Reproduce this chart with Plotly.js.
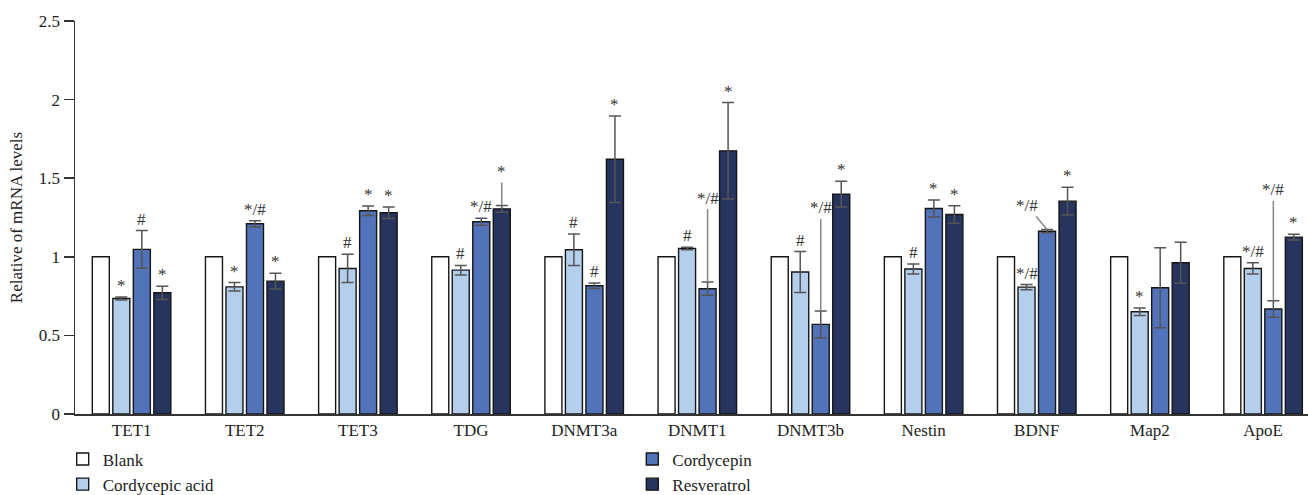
<!DOCTYPE html>
<html>
<head>
<meta charset="utf-8">
<script src="https://cdn.plot.ly/plotly-3.0.1.min.js"></script>
<style>html,body{margin:0;padding:0;background:#fff;}#chart{width:1308px;height:495px;}</style>
</head>
<body>
<div id="chart"></div>
<script>
const categories = ['TET1','TET2','TET3','TDG','DNMT3a','DNMT1','DNMT3b','Nestin','BDNF','Map2','ApoE'];
const seriesNames = ['Blank','Cordycepic acid','Cordycepin','Resveratrol'];

const blankVals = [1,1,1,1,1,1,1,1,1,1,1];
const blankErr  = [0,0,0,0,0,0,0,0,0,0,0];
const acidVals  = [0.735,0.809,0.926,0.915,1.045,1.053,0.903,0.922,0.807,0.650,0.926];
const acidErr   = [0.010,0.027,0.090,0.030,0.100,0.008,0.130,0.032,0.016,0.024,0.036];
const cordVals  = [1.047,1.210,1.293,1.223,0.816,0.797,0.570,1.307,1.163,0.803,0.668];
const cordErr   = [0.120,0.020,0.030,0.022,0.017,0.042,0.086,0.054,0.010,0.255,0.053];
const resvVals  = [0.771,0.845,1.280,1.305,1.621,1.674,1.399,1.269,1.354,0.962,1.125];
const resvErr   = [0.042,0.050,0.036,0.022,0.275,0.307,0.082,0.055,0.088,0.130,0.018];

const blankMarks = ['','','','','','','','','','',''];
const acidMarks  = ['*','*','#','#','#','#','#','#','*/#','*','*/#'];
const cordMarks  = ['#','*/#','*','*/#','#','*/#','*/#','*','*/#','','*/#'];
const resvMarks  = ['*','*','*','*','*','*','*','*','*','','*'];

const yTickVals = [0,0.5,1,1.5,2,2.5];
const yTickText = ['0','0.5','1','1.5','2','2.5'];

// leader-line placements (pixel offsets of the mark from the error-bar top)
const leaders = {
  '3-3': {ax: 0, ay: -34},
  '5-2': {ax: 0, ay: -84},
  '6-2': {ax: 0, ay: -103},
  '8-2': {ax: -20, ay: -24},
  '10-2': {ax: 0, ay: -111}
};

const vals = [blankVals, acidVals, cordVals, resvVals];
const errs = [blankErr, acidErr, cordErr, resvErr];
const marks = [blankMarks, acidMarks, cordMarks, resvMarks];
const fills = ['#ffffff', '#b4cfec', '#5273b9', '#27345e'];
const legendOf = ['legend', 'legend', 'legend2', 'legend2'];

const FONT = '"Liberation Serif", "Times New Roman", serif';
const bargap = 0.275;
const slot = (1 - bargap) / 4;

const traces = seriesNames.map((name, s) => ({
  type: 'bar',
  name: name,
  x: categories,
  y: vals[s],
  legend: legendOf[s],
  marker: {color: fills[s], line: {color: '#161616', width: 1.4}},
  error_y: s === 0 ? {visible: false} : {type: 'data', array: errs[s], visible: true, color: '#555', thickness: 1.5, width: 6},
  hoverinfo: 'x+y+name'
}));

const annotations = [];
for (let s = 0; s < 4; s++) {
  for (let g = 0; g < categories.length; g++) {
    const txt = marks[s][g];
    if (!txt) continue;
    const xpos = g + (s - 1.5) * slot;
    const ytop = vals[s][g] + errs[s][g];
    const lead = leaders[g + '-' + s];
    if (lead) {
      annotations.push({
        x: xpos, y: ytop, xref: 'x', yref: 'y', text: txt,
        showarrow: true, arrowhead: 0, arrowwidth: 1.5, arrowcolor: '#888',
        ax: lead.ax, ay: lead.ay, standoff: 0,
        font: {family: FONT, size: 17, color: '#333'}
      });
    } else {
      annotations.push({
        x: xpos, y: ytop, xref: 'x', yref: 'y', text: txt,
        showarrow: false, yanchor: 'bottom', yshift: 0,
        font: {family: FONT, size: 17, color: '#333'}
      });
    }
  }
}

const layout = {
  width: 1308, height: 495,
  margin: {l: 75, r: 0, t: 21, b: 81, autoexpand: false},
  paper_bgcolor: '#fff', plot_bgcolor: '#fff',
  font: {family: FONT, size: 17, color: '#222'},
  barmode: 'group',
  bargap: bargap,
  bargroupgap: 0.17,
  xaxis: {
    type: 'category',
    range: [-0.5, 10.397],
    automargin: false,
    showline: true, linecolor: '#333', linewidth: 1.5,
    ticks: '', showgrid: false, zeroline: false, tickangle: 0,
    tickfont: {family: FONT, size: 17, color: '#222'}
  },
  yaxis: {
    range: [0, 2.5],
    automargin: false,
    showline: true, linecolor: '#333', linewidth: 1.5,
    ticks: 'outside', ticklen: 10, tickwidth: 1.5, tickcolor: '#333',
    tickvals: yTickVals, ticktext: yTickText,
    showgrid: false, zeroline: false,
    tickfont: {family: FONT, size: 17, color: '#222'},
    title: {text: 'Relative of mRNA levels', font: {family: FONT, size: 17, color: '#222'}, standoff: 12}
  },
  showlegend: true,
  legend: {
    x: -0.01, y: -0.07, xanchor: 'left', yanchor: 'top',
    orientation: 'v', bgcolor: 'rgba(0,0,0,0)', tracegroupgap: 0,
    font: {family: FONT, size: 17, color: '#222'}
  },
  legend2: {
    x: 0.452, y: -0.07, xanchor: 'left', yanchor: 'top',
    orientation: 'v', bgcolor: 'rgba(0,0,0,0)', tracegroupgap: 0,
    font: {family: FONT, size: 17, color: '#222'}
  },
  annotations: annotations
};

Plotly.newPlot('chart', traces, layout, {displayModeBar: false, staticPlot: true});
</script>
</body>
</html>
